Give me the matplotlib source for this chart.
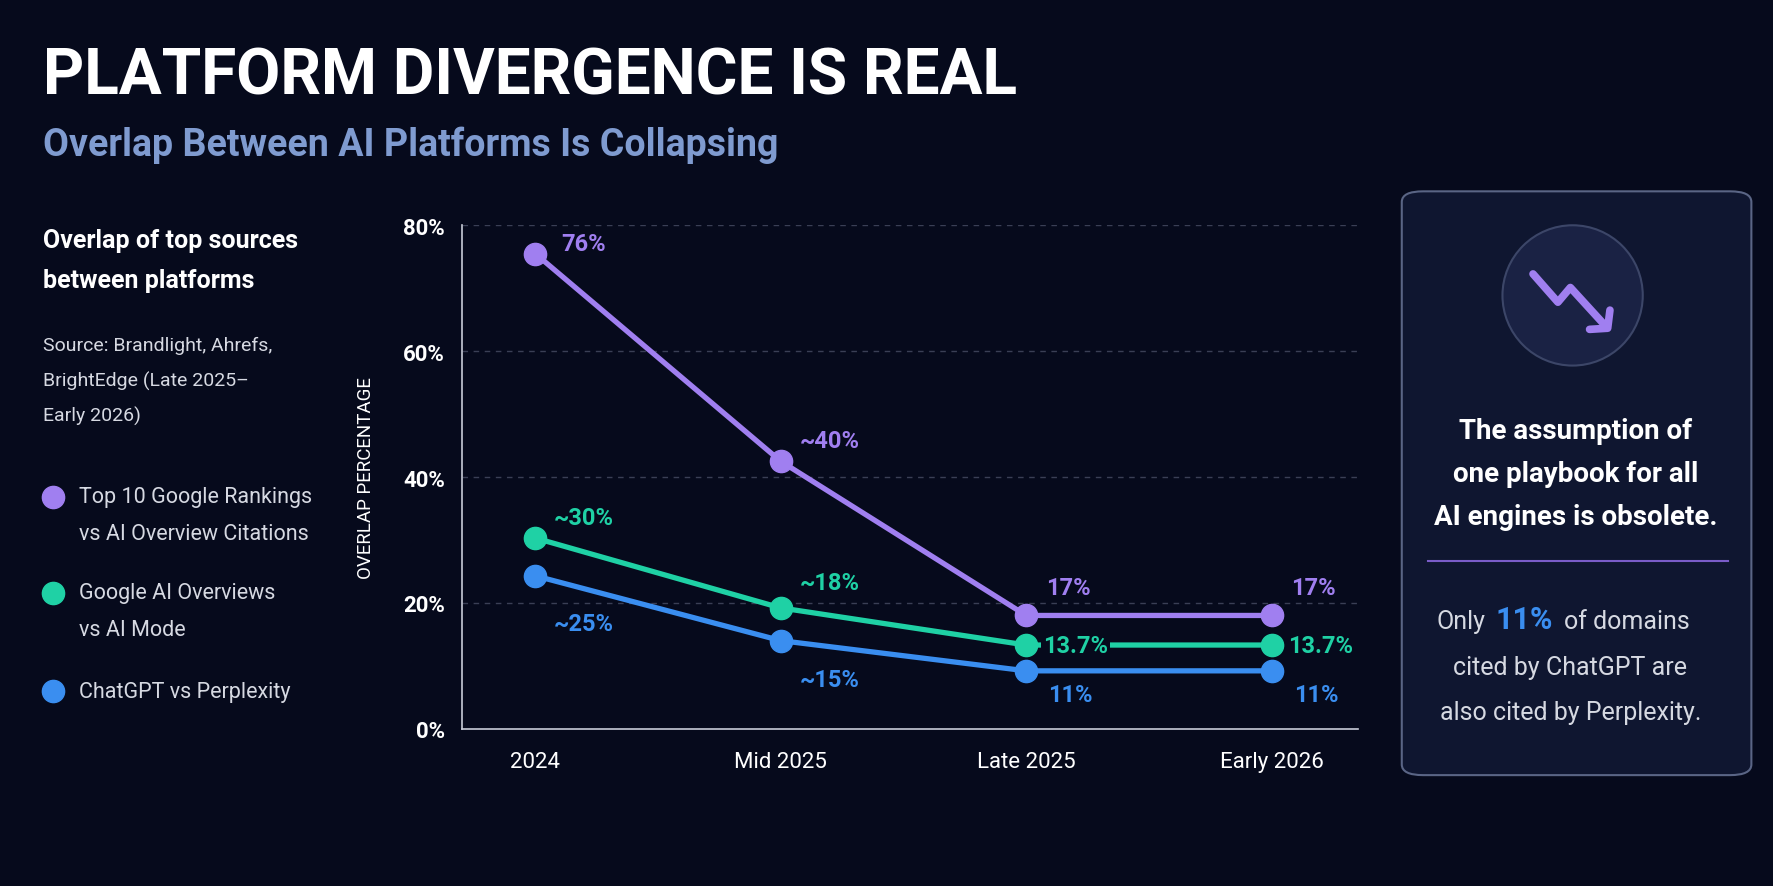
import matplotlib.pyplot as plt
from matplotlib.patches import FancyBboxPatch, Ellipse
from matplotlib.lines import Line2D

# --- data ---
periods = ['2024', 'Mid 2025', 'Late 2025', 'Early 2026']
google_rank = [75.5, 42.5, 18.0, 18.0]
aio_mode = [30.3, 19.2, 13.3, 13.3]
gpt_pplx = [24.3, 14.0, 9.2, 9.2]
google_rank_lbl = ['76%', '~40%', '17%', '17%']
aio_mode_lbl = ['~30%', '~18%', '13.7%', '13.7%']
gpt_pplx_lbl = ['~25%', '~15%', '11%', '11%']
y_ticks = [0, 20, 40, 60, 80]

BG = '#060a1c'
PURPLE = '#a07ff0'
GREEN = '#1fd1a5'
BLUE = '#3a8ef0'
plt.rcParams['font.family'] = ['Roboto', 'DejaVu Sans']

# layout is measured on a 1568x784 grid, saved at 1774x887
W, H = 1568, 784
fig = plt.figure(figsize=(17.74, 8.87), dpi=100, facecolor=BG)

def fx(px):
    return px / W

def fy(py):
    return 1 - py / H

# --- header ---
fig.text(fx(38), fy(68), 'PLATFORM DIVERGENCE IS REAL', color='white', fontsize=46,
         fontweight='bold', va='center')
fig.text(fx(38), fy(128), 'Overlap Between AI Platforms Is Collapsing', color='#7f9bd0',
         fontsize=27, fontweight='bold', va='center')

# --- left legend panel ---
fig.text(fx(38), fy(213), 'Overlap of top sources', color='white', fontsize=18,
         fontweight='bold', va='center')
fig.text(fx(38), fy(248), 'between platforms', color='white', fontsize=18,
         fontweight='bold', va='center')
for i, s in enumerate(['Source: Brandlight, Ahrefs,', 'BrightEdge (Late 2025\u2013', 'Early 2026)']):
    fig.text(fx(38), fy(306 + i * 31), s, color='#d6d9e2', fontsize=14, va='center')

leg = [(PURPLE, ['Top 10 Google Rankings', 'vs AI Overview Citations'], 440),
       (GREEN, ['Google AI Overviews', 'vs AI Mode'], 525),
       (BLUE, ['ChatGPT vs Perplexity'], 612)]
for col, lines, yy in leg:
    fig.add_artist(Line2D([fx(47)], [fy(yy)], marker='o', markersize=16, color=col,
                          transform=fig.transFigure))
    for j, t in enumerate(lines):
        fig.text(fx(70), fy(yy + j * 32), t, color='#d6d9e2', fontsize=15.5, va='center')

# --- chart ---
ax = fig.add_axes([fx(408), fy(645), fx(1200) - fx(408), fy(200) - fy(645)])
ax.set_facecolor(BG)
x = list(range(len(periods)))
ax.set_xlim(-0.3, 3.35)
ax.set_ylim(0, 80)
for yt in y_ticks[1:]:
    ax.axhline(yt, color='#3a3f55', lw=1, ls=(0, (4, 4)), zorder=1)

series = [(google_rank, google_rank_lbl, PURPLE), (aio_mode, aio_mode_lbl, GREEN),
          (gpt_pplx, gpt_pplx_lbl, BLUE)]
for vals, lbls, col in series:
    ax.plot(x, vals, color=col, lw=3.8, marker='o', markersize=16, zorder=3, clip_on=False)

offsets = {
    PURPLE: [(19, 7), (14, 15), (14, 20), (14, 20)],
    GREEN: [(13, 15), (14, 18), (12, 0), (12, 0)],
    BLUE: [(13, -34), (14, -28), (16, -17), (16, -17)],
}
for vals, lbls, col in series:
    for i, (v, l) in enumerate(zip(vals, lbls)):
        dx, dy = offsets[col][i]
        box = dict(boxstyle='square,pad=0.1', fc=BG, ec='none') if col == GREEN and i == 2 else None
        ax.annotate(l, (i, v), xytext=(dx, dy), textcoords='offset points', color=col,
                    fontsize=17, fontweight='bold', va='center', ha='left', zorder=4, bbox=box)

ax.set_yticks(y_ticks)
ax.set_yticklabels([f'{t}%' for t in y_ticks], color='white', fontsize=16, fontweight='bold')
ax.set_xticks(x)
ax.set_xticklabels(periods, color='white', fontsize=16)
ax.tick_params(length=0, pad=16)
ax.tick_params(axis='y', pad=12)
for sp in ['top', 'right']:
    ax.spines[sp].set_visible(False)
for sp in ['left', 'bottom']:
    ax.spines[sp].set_color('#c8ccd8')
    ax.spines[sp].set_linewidth(1.2)
ax.set_ylabel('OVERLAP PERCENTAGE', color='white', fontsize=13.5, labelpad=20)

# --- right card ---
card = FancyBboxPatch((fx(1239), fy(686)), fx(1548) - fx(1239), fy(170) - fy(686),
                      boxstyle='round,pad=0,rounding_size=0.012', transform=fig.transFigure,
                      facecolor='#0f1630', edgecolor='#5a6585', lw=1.5)
fig.add_artist(card)
fig.add_artist(Ellipse((fx(1390), fy(262)), 124 / W, 124 / H, transform=fig.transFigure,
                       facecolor='#1a2244', edgecolor='#3c4668', lw=1.5))
zx = [1355, 1377, 1388, 1420]
zy = [243, 268, 255, 290]
fig.add_artist(Line2D([fx(v) for v in zx], [fy(v) for v in zy], color=PURPLE, lw=5.5,
                      solid_capstyle='round', solid_joinstyle='round', transform=fig.transFigure))
fig.add_artist(Line2D([fx(1405), fx(1421), fx(1423)], [fy(292), fy(291), fy(275)], color=PURPLE,
                      lw=5.5, solid_capstyle='round', solid_joinstyle='round', transform=fig.transFigure))
for j, t in enumerate(['The assumption of', 'one playbook for all', 'AI engines is obsolete.']):
    fig.text(fx(1393), fy(381 + j * 38), t, color='white', fontsize=20, fontweight='bold',
             ha='center', va='center')
fig.add_artist(Line2D([fx(1262), fx(1527)], [fy(497), fy(497)], color='#7a5cc8', lw=1.5,
                      transform=fig.transFigure))
fig.text(fx(1270), fy(550), 'Only', color='#d6d9e2', fontsize=18, va='center')
fig.text(fx(1322), fy(548), '11%', color=BLUE, fontsize=22, fontweight='bold', va='center')
fig.text(fx(1382), fy(550), 'of domains', color='#d6d9e2', fontsize=18, va='center')
fig.text(fx(1388), fy(590), 'cited by ChatGPT are', color='#d6d9e2', fontsize=18, ha='center', va='center')
fig.text(fx(1388), fy(630), 'also cited by Perplexity.', color='#d6d9e2', fontsize=18, ha='center', va='center')

fig.savefig('out.png', dpi=100, facecolor=BG)
